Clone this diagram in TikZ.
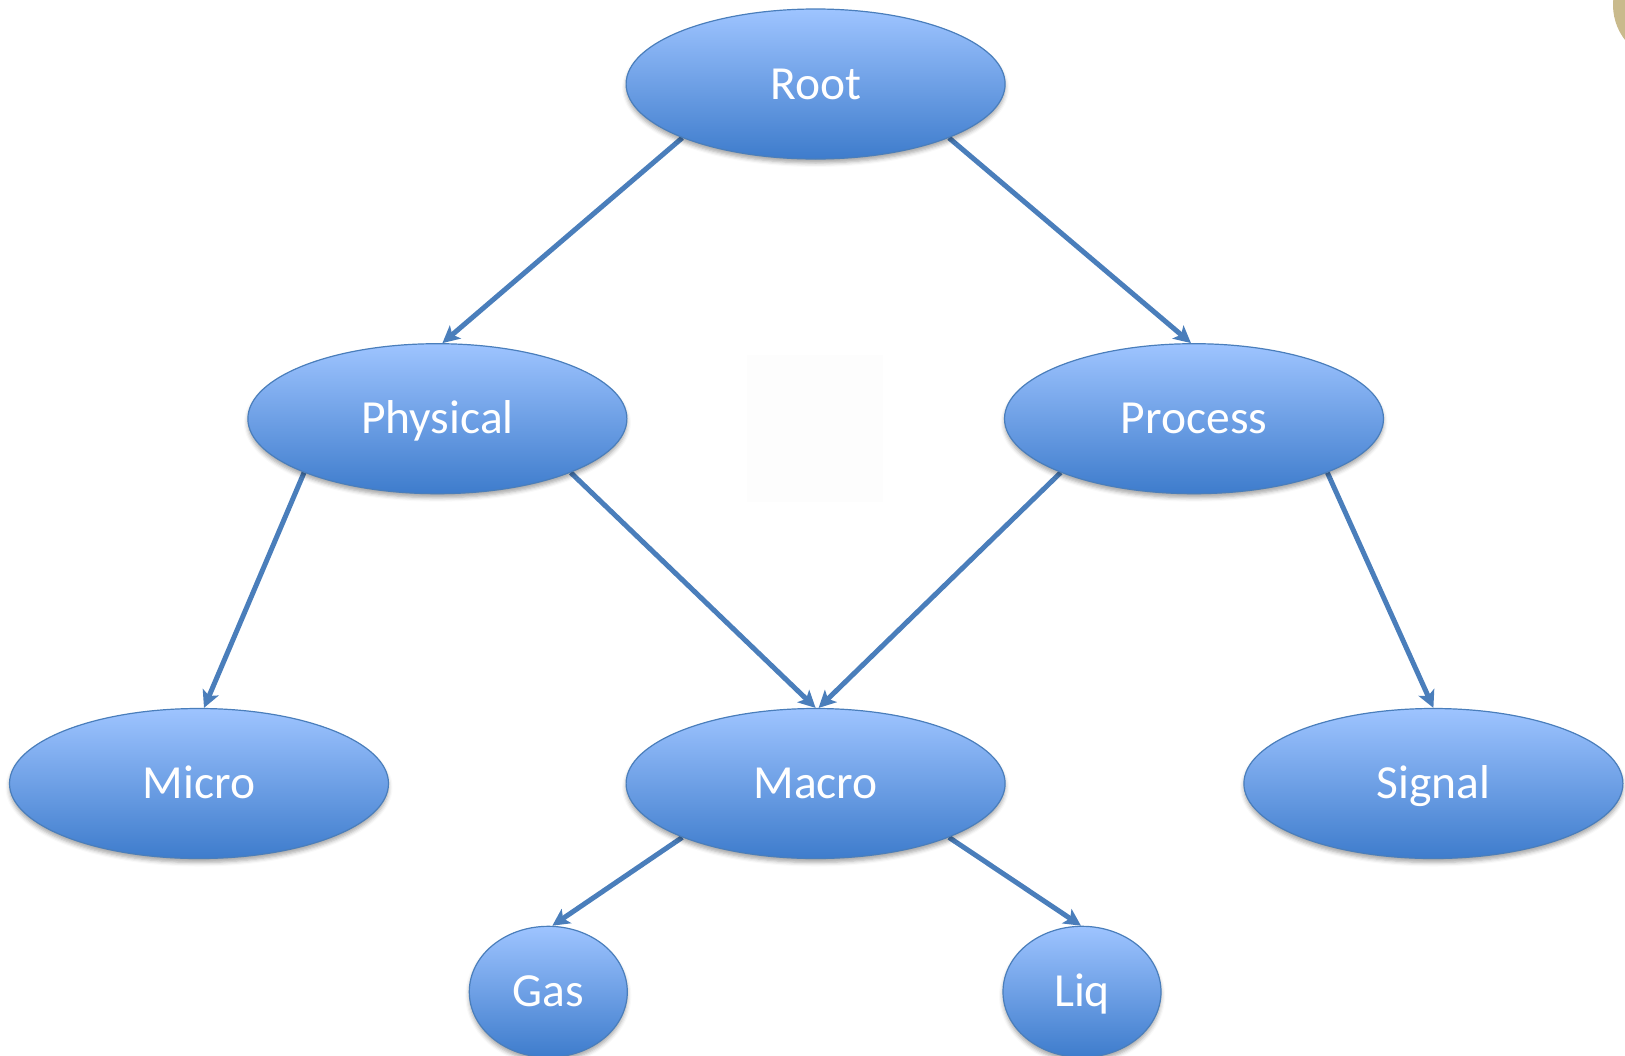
\documentclass[tikz,border=0pt]{standalone}
\usepackage{fontspec}
\setmainfont{Carlito}
\usetikzlibrary{arrows.meta,shapes.geometric,shadows.blur,backgrounds}
\definecolor{linkblue}{RGB}{74,126,187}
\definecolor{nodetop}{RGB}{158,196,255}
\definecolor{nodebot}{RGB}{62,124,204}
\definecolor{nodeedge}{RGB}{74,126,187}
\definecolor{sand}{RGB}{201,186,140}

\begin{document}
\begin{tikzpicture}[x=1pt,y=-1pt,
  oval/.style={ellipse, draw=nodeedge, line width=1.2pt,
    top color=nodetop, bottom color=nodebot,
    minimum width=379pt, minimum height=150pt, inner sep=0pt,
    text=white, font=\fontsize{47.5}{52}\selectfont,
    text height=34pt, text depth=4pt,
    blur shadow={shadow xshift=0pt, shadow yshift=-4pt,
      shadow blur radius=4pt, shadow opacity=35}},
  smalloval/.style={oval, minimum width=158pt, minimum height=131pt},
  link/.style={draw=linkblue, line width=5pt,
    -{Stealth[length=17pt,width=17pt,inset=4pt]}}
]
\useasboundingbox (0,0) rectangle (1625,1055);

% corner decoration and faint panel
\begin{scope}
  \clip (0,0) rectangle (1625,1055);
  \fill[sand] (1670,5) circle (57);
\end{scope}
\fill[black!0.7] (747,355) rectangle (883,502);

% tree nodes
\node[oval] (root)     at (815.6,84)    {Root};
\node[oval] (physical) at (437.4,418.7) {Physical};
\node[oval] (process)  at (1194,418.7)  {Process};
\node[oval] (micro)    at (199,783.5)   {Micro};
\node[oval] (macro)    at (815.6,783.5) {Macro};
\node[oval] (signal)   at (1433.4,783.5){Signal};
\node[smalloval] (gas) at (548.3,991.8) {Gas};
\node[smalloval] (liq) at (1082,991.8)  {Liq};

% connectors, drawn behind the ovals
\begin{scope}[on background layer]
  \draw[link] (root.202)     -- ([xshift=5pt]physical.north);
  \draw[link] (root.338)     -- ([xshift=-3pt]process.north);
  \draw[link] (physical.202) -- ([xshift=5pt]micro.north);
  \draw[link] (physical.338) -- ([xshift=0pt]macro.north);
  \draw[link] (process.202)  -- ([xshift=3pt]macro.north);
  \draw[link] (process.338)  -- (signal.north);
  \draw[link] (macro.202)    -- ([xshift=4pt]gas.north);
  \draw[link] (macro.338)    -- ([xshift=-1pt]liq.north);
\end{scope}
\end{tikzpicture}
\end{document}
